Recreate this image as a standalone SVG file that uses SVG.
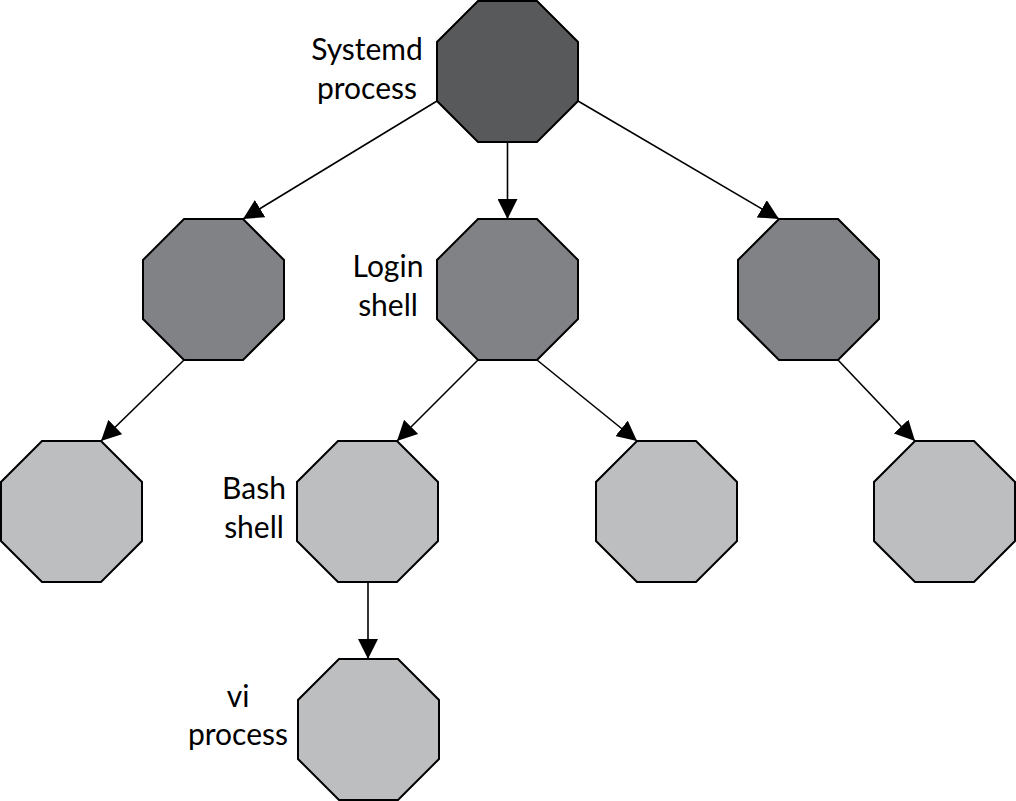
<svg xmlns="http://www.w3.org/2000/svg" xmlns:xlink="http://www.w3.org/1999/xlink" width="1016" height="801" viewBox="0 0 1016 801">
<style>
.oct{stroke:#000;stroke-width:2;stroke-linejoin:miter}
.d{fill:#58595b}
.m{fill:#808285}
.l{fill:#bcbec0}
.lbl{font-family:Lato,"Open Sans",sans-serif;font-size:30px;fill:#000;text-anchor:middle}
.c line{stroke:#000;stroke-width:1.6;marker-end:url(#ah)}
</style>
<defs>
<polygon id="oct" points="41,0 100,0 141,41 141,100 100,141 41,141 0,100 0,41"/>
<marker id="ah" markerUnits="userSpaceOnUse" viewBox="0 0 20 20" markerWidth="20" markerHeight="20" refX="20" refY="10" orient="auto">
<path d="M0,0 L20,10 L0,20 z" fill="#000"/>
</marker>
</defs>
<g class="c" id="connectors">
<line x1="437" y1="101" x2="243" y2="219"/>
<line x1="507.5" y1="142" x2="507.5" y2="219"/>
<line x1="578" y1="101" x2="779" y2="219"/>
<line x1="184" y1="360" x2="101" y2="441"/>
<line x1="478" y1="360" x2="397" y2="441"/>
<line x1="537" y1="360" x2="637" y2="441"/>
<line x1="838" y1="360" x2="915" y2="441"/>
<line x1="368" y1="582" x2="368" y2="659"/>
</g>
<g id="systemd"><use href="#oct" x="437" y="1" class="oct d"/><text class="lbl" x="367" y="60">Systemd</text><text class="lbl" x="367" y="99">process</text></g>
<g id="child-left"><use href="#oct" x="143" y="219" class="oct m"/></g>
<g id="login"><use href="#oct" x="437" y="219" class="oct m"/><text class="lbl" x="388" y="277">Login</text><text class="lbl" x="388" y="316">shell</text></g>
<g id="child-right"><use href="#oct" x="738" y="219" class="oct m"/></g>
<g id="grandchild-left"><use href="#oct" x="1" y="441" class="oct l"/></g>
<g id="bash"><use href="#oct" x="297" y="441" class="oct l"/><text class="lbl" x="254" y="499">Bash</text><text class="lbl" x="254" y="538">shell</text></g>
<g id="grandchild-mid"><use href="#oct" x="596" y="441" class="oct l"/></g>
<g id="grandchild-right"><use href="#oct" x="874" y="441" class="oct l"/></g>
<g id="vi"><use href="#oct" x="298" y="659" class="oct l"/><text class="lbl" x="238" y="707">vi</text><text class="lbl" x="238" y="745">process</text></g>
</svg>
